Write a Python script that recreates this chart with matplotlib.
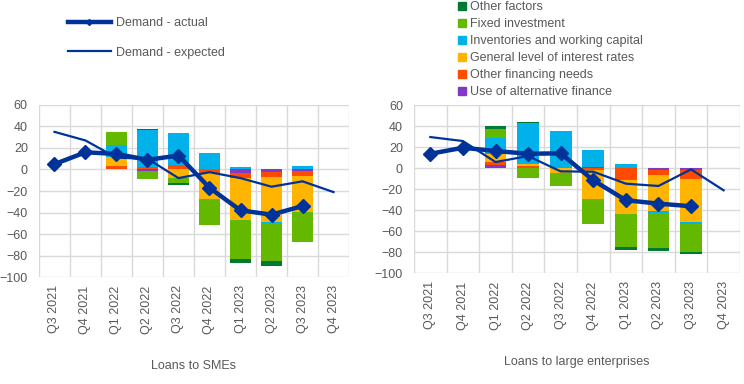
import numpy as np
import matplotlib.pyplot as plt
from matplotlib.lines import Line2D
from matplotlib.patches import Patch

plt.rcParams['font.family'] = ['Liberation Sans', 'DejaVu Sans']

quarters = ['Q3 2021', 'Q4 2021', 'Q1 2022', 'Q2 2022', 'Q3 2022',
            'Q4 2022', 'Q1 2023', 'Q2 2023', 'Q3 2023', 'Q4 2023']

factor_names = ['Use of alternative finance', 'Other financing needs',
                'General level of interest rates', 'Inventories and working capital',
                'Fixed investment', 'Other factors']
factor_colors = ['#8139C6', '#FF4B00', '#FFB400', '#00B1EA', '#65B800', '#007A33']

# SMEs - contributions (NaN = no bar)
sme_alt = [np.nan, np.nan, 0.8, -1.2, 0.0, 0.0, -3.0, -2.0, -1.5, np.nan]
sme_fin = [np.nan, np.nan, 2.2, 2.0, 4.0, -3.0, -5.0, -4.8, -4.7, np.nan]
sme_rates = [np.nan, np.nan, 9.0, 0.0, -7.8, -24.0, -39.4, -42.2, -33.5, np.nan]
sme_inv = [np.nan, np.nan, 11.0, 35.2, 30.0, 15.5, 1.9, -0.6, 3.7, np.nan]
sme_fixed = [np.nan, np.nan, 11.5, -8.0, -4.6, -25.0, -35.4, -35.7, -27.9, np.nan]
sme_other = [np.nan, np.nan, 0.5, 0.8, -1.6, 0.0, -4.0, -4.0, 0.0, np.nan]
sme_actual = [5, 16, 14.5, 9, 13, -17, -38, -42, -34, np.nan]
sme_expected = [35, 27, 11, 10, -8, -2.5, -8, -16, -11, -21]

# Large enterprises - contributions
le_alt = [np.nan, np.nan, 2.6, 0.0, 0.0, 1.3, 0.0, -2.2, -2.2, np.nan]
le_fin = [np.nan, np.nan, 3.1, 1.6, 0.0, -2.0, -11.4, -4.4, -8.5, np.nan]
le_rates = [np.nan, np.nan, 8.0, 1.9, -4.4, -27.2, -32.0, -34.3, -40.6, np.nan]
le_inv = [np.nan, np.nan, 15.2, 39.5, 35.5, 15.5, 4.0, -1.9, -2.2, np.nan]
le_fixed = [np.nan, np.nan, 7.9, -9.2, -12.7, -23.7, -31.6, -32.9, -26.9, np.nan]
le_other = [np.nan, np.nan, 3.1, 0.4, 0.0, -0.5, -3.5, -3.8, -1.3, np.nan]
le_actual = [13.6, 19.3, 16.2, 13.6, 14, -11.7, -30.7, -33.9, -36.4, np.nan]
le_expected = [29.5, 25.7, 5.7, 11.4, -3.2, -3.5, -14.9, -17.1, -1.3, -21.2]

line_color = '#003399'
text_color = '#595959'
grid_color = '#D9D9D9'


def draw_panel(ax, series, actual, expected, title):
    x = np.arange(len(quarters))
    pos_base = np.zeros(len(quarters))
    neg_base = np.zeros(len(quarters))
    for vals, color in zip(series, factor_colors):
        v = np.nan_to_num(np.array(vals, dtype=float))
        bottom = np.where(v >= 0, pos_base, neg_base)
        ax.bar(x, v, bottom=bottom, width=0.67, color=color, zorder=2)
        pos_base += np.where(v >= 0, v, 0)
        neg_base += np.where(v < 0, v, 0)

    ax.plot(x, expected, color=line_color, lw=1.6, zorder=3)
    ax.plot(x, actual, color=line_color, lw=3.2, marker='D', ms=7, zorder=4)

    ax.set_xlim(-0.5, len(quarters) - 0.5)
    ax.set_ylim(-100, 60)
    ax.set_yticks(range(-100, 61, 20))
    ax.set_xticks(x)
    ax.set_xticklabels(quarters, rotation=90)
    ax.set_xticks(np.arange(-0.5, len(quarters), 1), minor=True)
    ax.grid(axis='y', color=grid_color, lw=1, zorder=0)
    ax.grid(axis='x', which='minor', color=grid_color, lw=1, zorder=0)
    ax.grid(axis='x', which='major', visible=False)
    for s in ax.spines.values():
        s.set_visible(False)
    ax.tick_params(axis='both', which='both', length=0, labelsize=9, colors=text_color)
    ax.tick_params(axis='y', pad=8)
    ax.tick_params(axis='x', pad=6)
    ax.set_xlabel(title, fontsize=9, color=text_color, labelpad=19)


fig = plt.figure(figsize=(7.44, 3.84), dpi=100)
ax1 = fig.add_axes([0.0524, 0.2786, 0.4167, 0.448])
ax2 = fig.add_axes([0.5565, 0.289, 0.438, 0.4375])

draw_panel(ax1, [sme_alt, sme_fin, sme_rates, sme_inv, sme_fixed, sme_other],
           sme_actual, sme_expected, 'Loans to SMEs')
draw_panel(ax2, [le_alt, le_fin, le_rates, le_inv, le_fixed, le_other],
           le_actual, le_expected, 'Loans to large enterprises')

line_handles = [
    Line2D([], [], color=line_color, lw=3.2, marker='D', ms=3),
    Line2D([], [], color=line_color, lw=1.6),
]
fig.legend(line_handles, ['Demand - actual', 'Demand - expected'],
           loc='upper left', bbox_to_anchor=(0.0914, 0.955), frameon=False,
           fontsize=9, labelcolor=text_color, handlelength=3.4,
           handletextpad=0.4, labelspacing=1.4, borderpad=0, borderaxespad=0)

bar_handles = [Patch(color=c) for c in factor_colors][::-1]
fig.legend(bar_handles, factor_names[::-1],
           loc='upper left', bbox_to_anchor=(0.616, 0.997), frameon=False,
           fontsize=9, labelcolor=text_color, handlelength=0.6, handleheight=0.6,
           handletextpad=0.35, labelspacing=0.4, borderpad=0, borderaxespad=0)

fig.savefig('out.png', dpi=100)
